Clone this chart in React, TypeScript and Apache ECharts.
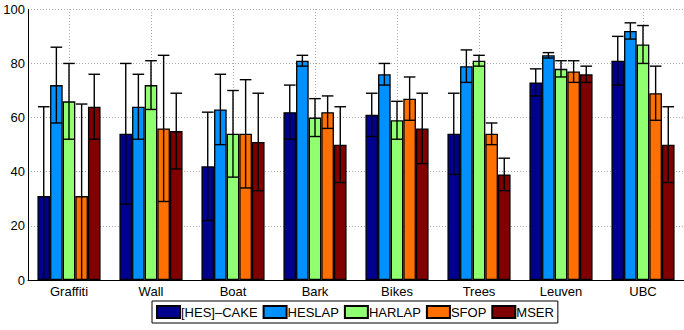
import React, { useEffect, useRef } from 'react';
import * as echarts from 'echarts';

const categories = ['Graffiti', 'Wall', 'Boat', 'Bark', 'Bikes', 'Trees', 'Leuven', 'UBC'];
const seriesNames = ['[HES]–CAKE', 'HESLAP', 'HARLAP', 'SFOP', 'MSER'];
const seriesColors = ['#00008F', '#0090FF', '#90FF70', '#FF7000', '#800000'];

const cakeMean = [31, 54, 42, 62, 61, 54, 73, 81];
const cakeErr = [33, 26, 20, 10, 8, 15, 5, 9];
const heslapMean = [72, 64, 63, 81, 76, 79, 83, 92];
const heslapErr = [14, 12, 13, 2, 4, 6, 1, 3];
const harlapMean = [66, 72, 54, 60, 59, 81, 78, 87];
const harlapErr = [14, 9, 16, 7, 7, 2, 3, 7];
const sfopMean = [31, 56, 54, 62, 67, 54, 77, 69];
const sfopErr = [34, 27, 20, 6, 8, 4, 4, 10];
const mserMean = [64, 55, 51, 50, 56, 39, 76, 50];
const mserErr = [12, 14, 18, 14, 13, 6, 3, 14];

const yMin = 0;
const yMax = 100;
const yInterval = 20;

const means = [cakeMean, heslapMean, harlapMean, sfopMean, mserMean];
const errs = [cakeErr, heslapErr, harlapErr, sfopErr, mserErr];

const CATEGORY_GAP = 0.23;
const FONT = "'Liberation Sans', Arial, Helvetica, sans-serif";

export default function App() {
  const ref = useRef<HTMLDivElement>(null);
  useEffect(() => {
    if (!ref.current) return;
    const chart = echarts.init(ref.current, null, { renderer: 'svg' });

    const errData: number[][] = [];
    means.forEach((arr, s) => {
      arr.forEach((m, i) => {
        errData.push([i, s, m, errs[s][i]]);
      });
    });

    const barSeries = seriesNames.map((name, s) => ({
      name,
      type: 'bar',
      data: means[s],
      barGap: '0%',
      barCategoryGap: (CATEGORY_GAP * 100) + '%',
      itemStyle: { color: seriesColors[s], borderColor: '#000', borderWidth: 1.3 },
      z: 2,
    }));

    const option: any = {
      animation: false,
      textStyle: { fontFamily: FONT },
      grid: { left: 28, right: -3, top: 9.3, bottom: 50, containLabel: false },
      xAxis: {
        type: 'category',
        data: categories,
        axisLine: { show: true, lineStyle: { color: '#000', width: 1 } },
        axisTick: { show: false },
        axisLabel: { color: '#000', fontSize: 13, margin: 5, fontFamily: FONT },
        splitLine: { show: false },
      },
      yAxis: {
        type: 'value',
        min: yMin,
        max: yMax,
        interval: yInterval,
        axisLine: { show: true, lineStyle: { color: '#000', width: 1 } },
        axisTick: { show: false },
        axisLabel: { color: '#000', fontSize: 13, margin: 3, fontFamily: FONT },
        splitLine: { show: true, lineStyle: { color: '#aaaaaa', width: 1, type: [1, 2] } },
      },
      legend: {
        data: seriesNames,
        left: 152,
        top: 301,
        orient: 'horizontal',
        itemWidth: 23,
        itemHeight: 12,
        itemGap: 5,
        padding: [4, 4, 4, 4],
        borderColor: '#000',
        borderWidth: 1,
        backgroundColor: '#fff',
        icon: 'rect',
        textStyle: { color: '#000', fontSize: 13, fontFamily: FONT, padding: [0, 0, 0, -4] },
      },
      series: [
        {
          type: 'line',
          data: [],
          silent: true,
          z: 1,
          markLine: {
            silent: true,
            symbol: ['none', 'none'],
            z: 1,
            label: { show: false },
            lineStyle: { color: '#aaaaaa', width: 1, type: [1, 2] },
            data: categories.map((c) => ({ xAxis: c })),
          },
        },
        ...barSeries,
        {
          type: 'custom',
          z: 5,
          silent: true,
          data: errData,
          encode: { x: 0, y: 2 },
          renderItem: (params: any, api: any) => {
            const i = api.value(0);
            const s = api.value(1);
            const m = api.value(2);
            const e = api.value(3);
            const c = api.coord([i, m]);
            const band = api.size([1, 0])[0];
            const bw = (band * (1 - CATEGORY_GAP)) / 5;
            const x = c[0] + (s - 2) * bw;
            const hi = api.coord([i, m + e])[1];
            const lowV = m - e;
            const lo = api.coord([i, Math.max(lowV, 0)])[1];
            const cap = bw * 0.46;
            const style = { stroke: '#000', lineWidth: 1.4 };
            const children: any[] = [
              { type: 'line', shape: { x1: x, y1: hi, x2: x, y2: lo }, style },
              { type: 'line', shape: { x1: x - cap, y1: hi, x2: x + cap, y2: hi }, style },
            ];
            if (lowV > 0) {
              children.push({ type: 'line', shape: { x1: x - cap, y1: lo, x2: x + cap, y2: lo }, style });
            }
            return { type: 'group', children };
          },
        },
      ],
    };

    chart.setOption(option);
    return () => chart.dispose();
  }, []);

  return (
    <div
      ref={ref}
      style={{ position: 'absolute', left: 0, top: 0, width: 684, height: 330, background: '#fff' }}
    />
  );
}
